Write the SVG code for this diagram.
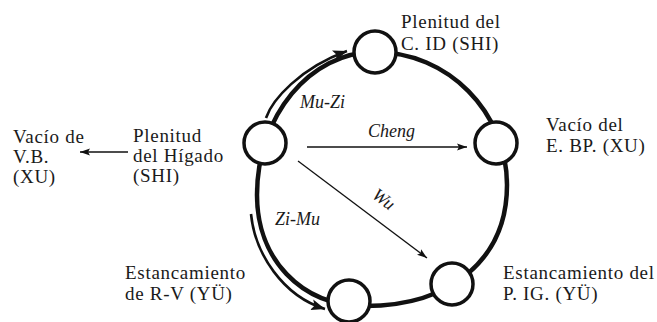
<svg xmlns="http://www.w3.org/2000/svg" width="657" height="322" viewBox="0 0 657 322">
<style>
.lbl{font-family:"Liberation Serif","Times New Roman",serif;font-size:19px;letter-spacing:0.7px;fill:#1a1a1a}
.it{font-family:"Liberation Serif","Times New Roman",serif;font-size:18px;font-style:italic;fill:#1a1a1a}
.node{fill:#fff;stroke:#111;stroke-width:3.5}
.ring{fill:none;stroke:#111;stroke-width:4.5}
.thick{fill:none;stroke:#111;stroke-width:2.6}
.thin{fill:none;stroke:#111;stroke-width:1.3}
</style>
<defs>
<marker id="bigArrow" markerUnits="userSpaceOnUse" markerWidth="16" markerHeight="12" refX="14" refY="6" orient="auto">
<path d="M0,0.5 L14,6 L0,11.5 L3,6 Z" fill="#111"/>
</marker>
<marker id="smallArrow" markerUnits="userSpaceOnUse" markerWidth="11" markerHeight="8" refX="10" refY="4" orient="auto">
<path d="M0,0.5 L10,4 L0,7.5 L2,4 Z" fill="#111"/>
</marker>
</defs>
<g id="connectors">
<path id="ring" class="ring" d="M375,52 C448,52 507,112 507,185 C507,258 452,306 365,306 C300,306 257,258 257,195 C257,116 310,52 375,52 Z"/>
<path id="mu-zi" class="thick" d="M266,118 C272,100 300,68 347,51" marker-end="url(#bigArrow)"/>
<path id="zi-mu" class="thick" d="M251,214 C255,254 283,296 325,309" marker-end="url(#bigArrow)"/>
<path id="cheng" class="thin" d="M307,147 L467,147" marker-end="url(#smallArrow)"/>
<path id="wu" class="thin" d="M298,161 L427,258" marker-end="url(#smallArrow)"/>
<path id="to-vb" class="thin" d="M128,152 L80,152" marker-end="url(#smallArrow)"/>
<text class="it" x="300" y="108">Mu-Zi</text>
<text class="it" x="368" y="137">Cheng</text>
<text class="it" x="275" y="225">Zi-Mu</text>
<text class="it" x="0" y="0" transform="translate(371,197) rotate(37)">Wu</text>
</g>
<g id="node-higado">
<circle class="node" cx="265" cy="143" r="21"/>
<text class="lbl" x="133" y="142">Plenitud</text>
<text class="lbl" x="133" y="162">del Hígado</text>
<text class="lbl" x="133" y="182">(SHI)</text>
</g>
<g id="node-vb">
<text class="lbl" x="13" y="143">Vacío de</text>
<text class="lbl" x="13" y="163">V.B.</text>
<text class="lbl" x="13" y="183">(XU)</text>
</g>
<g id="node-corazon">
<circle class="node" cx="375" cy="52" r="21"/>
<text class="lbl" x="401" y="28">Plenitud del</text>
<text class="lbl" x="401" y="50">C. ID (SHI)</text>
</g>
<g id="node-bazo">
<circle class="node" cx="496" cy="143" r="21"/>
<text class="lbl" x="546" y="131">Vacío del</text>
<text class="lbl" x="546" y="152">E. BP. (XU)</text>
</g>
<g id="node-pulmon">
<circle class="node" cx="452" cy="284" r="21"/>
<text class="lbl" x="503" y="279">Estancamiento del</text>
<text class="lbl" x="503" y="300">P. IG. (YÜ)</text>
</g>
<g id="node-rinon">
<circle class="node" cx="349" cy="301" r="21"/>
<text class="lbl" x="125" y="279">Estancamiento</text>
<text class="lbl" x="125" y="300">de R-V (YÜ)</text>
</g>
</svg>
